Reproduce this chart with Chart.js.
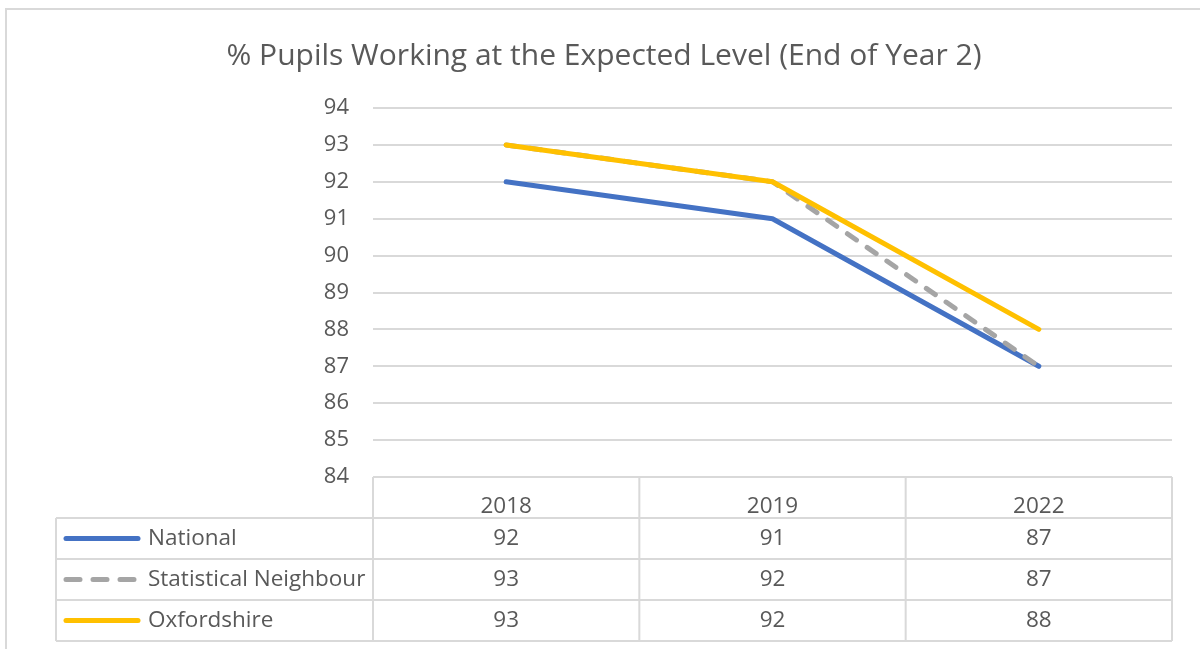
<!DOCTYPE html>
<html>
<head>
<meta charset="utf-8">
<script src="https://cdn.jsdelivr.net/npm/chart.js@4.4.1/dist/chart.umd.min.js"></script>
<style>
  html, body { margin: 0; padding: 0; background: #fff; }
  #wrap { width: 1200px; height: 649px; }
</style>
</head>
<body>
<div id="wrap"><canvas id="chart" width="1200" height="649"></canvas></div>
<script>
const years = ["2018", "2019", "2022"];
const national = [92, 91, 87];
const statNeighbour = [93, 92, 87];
const oxfordshire = [93, 92, 88];
const yMin = 84;
const yMax = 94;

const textColor = "#595959";
const lineGrey = "#d9d9d9";
const font = "'Open Sans', 'Noto Sans', sans-serif";

// data table drawn under the plot, like Excel's "data table with legend keys"
const dataTable = {
  id: "dataTable",
  beforeDraw(chart) {
    const ctx = chart.ctx;
    ctx.save();
    ctx.strokeStyle = lineGrey;
    ctx.lineWidth = 2;
    ctx.beginPath();
    ctx.moveTo(6, 649);
    ctx.lineTo(6, 9);
    ctx.lineTo(1200, 9);
    ctx.stroke();
    ctx.restore();
  },
  afterDraw(chart) {
    const { ctx, chartArea, scales } = chart;
    const xs = scales.x;
    const colW = chartArea.width / years.length;
    const top = chartArea.bottom;
    const rowH = 41;
    const legendLeft = 56;
    const sets = chart.data.datasets;
    const bottom = top + rowH * (sets.length + 1);

    ctx.save();
    ctx.strokeStyle = lineGrey;
    ctx.lineWidth = 2;
    ctx.beginPath();
    // column lines
    for (let i = 0; i <= years.length; i++) {
      const x = chartArea.left + i * colW;
      ctx.moveTo(x, top);
      ctx.lineTo(x, bottom);
    }
    ctx.moveTo(legendLeft, top + rowH);
    ctx.lineTo(legendLeft, bottom);
    // row lines
    for (let r = 1; r <= sets.length + 1; r++) {
      const y = top + r * rowH;
      ctx.moveTo(legendLeft, y);
      ctx.lineTo(chartArea.right, y);
    }
    ctx.stroke();

    ctx.font = "22.5px " + font;
    ctx.fillStyle = textColor;
    ctx.textBaseline = "middle";
    sets.forEach((ds, r) => {
      const cy = top + (r + 1.5) * rowH;
      // legend key
      ctx.save();
      ctx.strokeStyle = ds.borderColor;
      ctx.lineWidth = 5;
      ctx.lineCap = "round";
      ctx.setLineDash(ds.borderDash ? [14, 13] : []);
      ctx.beginPath();
      ctx.moveTo(66, cy);
      ctx.lineTo(138, cy);
      ctx.stroke();
      ctx.restore();

      ctx.textAlign = "left";
      ctx.fillText(ds.label, 148, cy);
      ctx.textAlign = "center";
      ds.data.forEach((v, i) => {
        ctx.fillText(String(v), xs.getPixelForValue(i), cy);
      });
    });
    ctx.restore();
  }
};

new Chart(document.getElementById("chart"), {
  type: "line",
  data: {
    labels: years,
    datasets: [
      {
        label: "National",
        data: national,
        borderColor: "#4472c4",
        order: 3,
      },
      {
        label: "Statistical Neighbour",
        data: statNeighbour,
        borderColor: "#a5a5a5",
        borderDash: [11, 13],
        order: 2,
      },
      {
        label: "Oxfordshire",
        data: oxfordshire,
        borderColor: "#ffc000",
        order: 1,
      },
    ],
  },
  options: {
    responsive: false,
    animation: false,
    layout: { padding: { left: 36, right: 28, top: 0, bottom: 0 } },
    elements: {
      line: {
        borderWidth: 5,
        tension: 0,
        borderCapStyle: "round",
        borderJoinStyle: "round",
        fill: false,
      },
      point: { radius: 0, hoverRadius: 0 },
    },
    plugins: {
      legend: { display: false },
      tooltip: { enabled: false },
      title: {
        display: true,
        text: "% Pupils Working at the Expected Level (End of Year 2)",
        color: textColor,
        font: { family: font, size: 30, weight: "normal", lineHeight: 1.2 },
        padding: { top: 38, bottom: 34 },
      },
    },
    scales: {
      x: {
        offset: true,
        grid: { display: false },
        border: { display: false },
        ticks: {
          color: textColor,
          padding: 8,
          font: { family: font, size: 22.5 },
        },
        afterFit: (scale) => { scale.height = 172; },
      },
      y: {
        min: yMin,
        max: yMax,
        grid: { color: lineGrey, lineWidth: 2, drawTicks: false },
        border: { display: false },
        ticks: {
          stepSize: 1,
          color: textColor,
          padding: 24,
          font: { family: font, size: 22 },
        },
        afterFit: (scale) => { scale.width = 337; },
      },
    },
  },
  plugins: [dataTable],
});
</script>
</body>
</html>
